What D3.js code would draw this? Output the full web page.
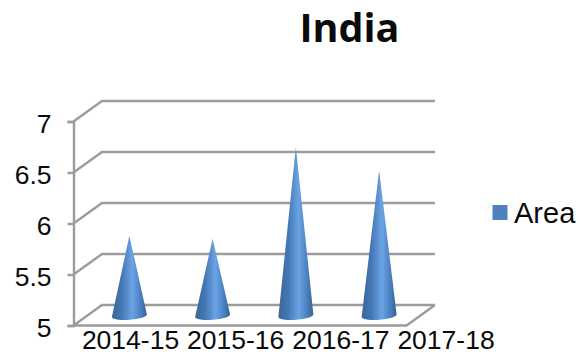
<!DOCTYPE html>
<html>
<head>
<meta charset="utf-8">
<script src="https://cdnjs.cloudflare.com/ajax/libs/d3/7.8.5/d3.min.js"></script>
<style>
html,body{margin:0;padding:0;background:#fff;}
svg{display:block;}
text{fill:#0a0a0a;font-family:"Liberation Sans",Arial,sans-serif;}
</style>
</head>
<body>
<div id="chart"></div>
<script>
const chartTitle = "India";
const seriesName = "Area";
const categories = ["2014-15", "2015-16", "2016-17", "2017-18"];
const areaValues = [5.78, 5.75, 6.65, 6.42];
const valueTicks = [5, 5.5, 6, 6.5, 7];

const width = 580, height = 356;
const wallColor = "#9c9c9c";

const svg = d3.select("#chart").append("svg")
  .attr("width", width).attr("height", height);

// Front plane of the 3-D box, plus the offset of its back wall
const x = d3.scaleBand().domain(categories).range([73.5, 406.5]);
const y = d3.scaleLinear().domain([5, 7]).range([325.5, 121.5]);
const depth = {dx: 28.5, dy: -20.5};
// Labels run wider than the plot and overhang it on the right
const labelX = d3.scalePoint().domain(categories).range([130, 445.5]);
// Cones stand halfway between the front edge and the back wall
const coneBaseY = v => y(v) + depth.dy / 2;
const coneCenterX = c => x(c) + x.bandwidth() / 2 + depth.dx / 2;

const defs = svg.append("defs");
const cone = defs.append("linearGradient").attr("id", "coneFill")
  .attr("x1", 0).attr("x2", 1).attr("y1", 0).attr("y2", 0);
[[0, "#386699"], [0.28, "#4577b4"], [0.58, "#6ba3e4"], [0.8, "#4d83c4"], [1, "#37628f"]]
  .forEach(([o, c]) => cone.append("stop").attr("offset", o).attr("stop-color", c));

const grid = svg.append("g")
  .attr("fill", "none").attr("stroke", wallColor).attr("stroke-width", 2.4);

// Gridlines across the back wall with their slanted left-wall segments
grid.selectAll("path.grid").data(valueTicks).join("path")
  .attr("class", "grid")
  .attr("d", v => {
    const p = d3.path();
    p.moveTo(x.range()[0], y(v));
    p.lineTo(x.range()[0] + depth.dx, y(v) + depth.dy);
    p.lineTo(x.range()[1] + depth.dx, y(v) + depth.dy);
    return p.toString();
  });

// Floor: front edge and right-hand slant
grid.append("path").attr("d", () => {
  const p = d3.path();
  p.moveTo(x.range()[0], y(5));
  p.lineTo(x.range()[1], y(5));
  p.lineTo(x.range()[1] + depth.dx, y(5) + depth.dy);
  return p.toString();
});

// Value axis on the front-left edge
const yAxis = svg.append("g")
  .attr("transform", `translate(${x.range()[0]},0)`)
  .call(d3.axisLeft(y).tickValues(valueTicks).tickSize(6).tickPadding(16).tickFormat(d3.format("~g")));
yAxis.select(".domain").attr("stroke", wallColor).attr("stroke-width", 2.4);
yAxis.selectAll(".tick line").attr("stroke", wallColor).attr("stroke-width", 2.4);
yAxis.selectAll(".tick text").attr("font-size", 26.5).attr("fill", "#0a0a0a").attr("dy", "0.4em");

// Cones: triangular body closed by a slightly tilted elliptical base
const rx = 17.5, ry = 4, tilt = 1.2;
svg.append("g").selectAll("path.cone")
  .data(categories.map((c, i) => ({c, v: areaValues[i]})))
  .join("path")
  .attr("class", "cone")
  .attr("fill", "url(#coneFill)")
  .attr("d", d => {
    const cx = coneCenterX(d.c), by = coneBaseY(5) + 0.5, ty = coneBaseY(d.v);
    return `M${cx},${ty}L${cx + rx},${by - tilt}A${rx},${ry} -4 0 1 ${cx - rx},${by + tilt}Z`;
  });

// Category labels
const xAxis = svg.append("g")
  .attr("transform", `translate(0,${y(5)})`)
  .call(d3.axisBottom(labelX).tickSize(0).tickPadding(4));
xAxis.select(".domain").remove();
xAxis.selectAll(".tick text").attr("font-size", 26.5).attr("fill", "#0a0a0a").attr("dy", "0.72em");

svg.append("text")
  .attr("x", 349.5).attr("y", 41.5)
  .attr("text-anchor", "middle")
  .attr("font-size", 39.5).attr("font-weight", 700)
  .style("font-family", '"Open Sans",sans-serif')
  .text(chartTitle);

// Legend
svg.append("rect").attr("x", 492.5).attr("y", 205).attr("width", 15).attr("height", 15).attr("fill", "#4f81bd");
svg.append("text").attr("x", 514).attr("y", 222.5).attr("font-size", 29).text(seriesName);
</script>
</body>
</html>
